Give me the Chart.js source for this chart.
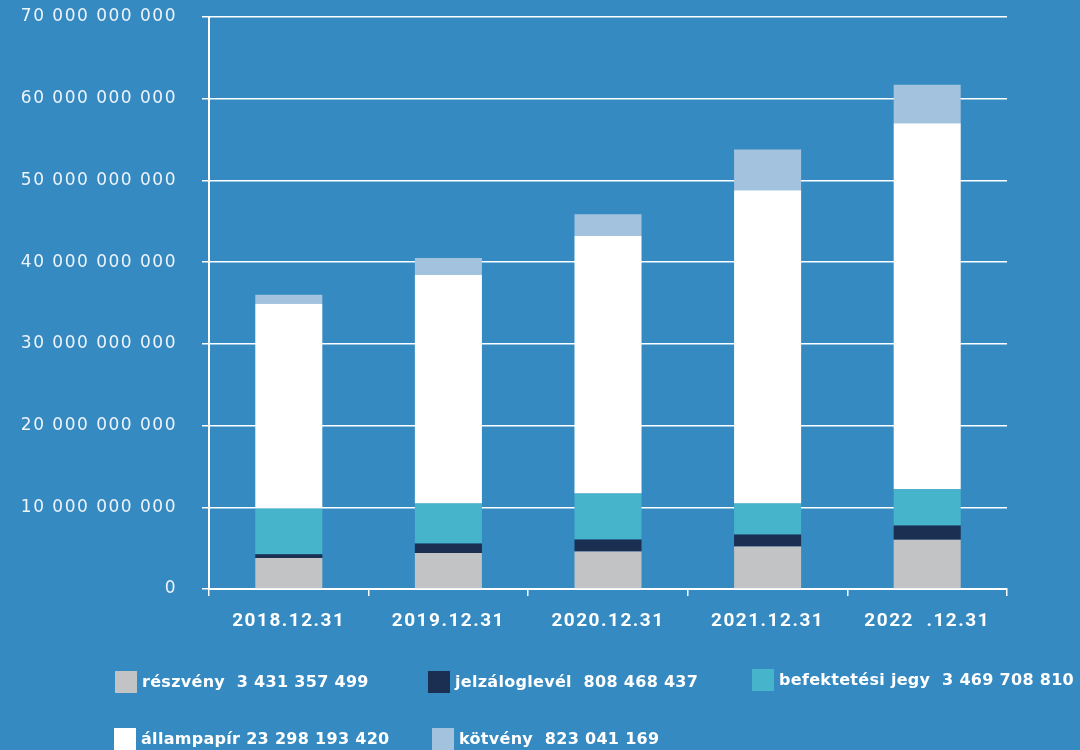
<!DOCTYPE html>
<html>
<head>
<meta charset="utf-8">
<script src="https://cdn.jsdelivr.net/npm/chart.js@4/dist/chart.umd.min.js"></script>
<style>
  body { margin: 0; background: #358ac1; }
  #wrap { position: relative; width: 1080px; height: 750px; overflow: hidden; background: #358ac1; }
  #legend .item { position: absolute; height: 22px; white-space: pre; color: #fff;
    font-family: "DejaVu Sans", sans-serif; font-weight: bold; font-size: 16px; line-height: 22px; letter-spacing: 0.3px; }
  #legend .sw { position: absolute; left: 0; top: 0; width: 22px; height: 22px; }
  #legend .tx { position: absolute; left: 27px; top: 0; }
</style>
</head>
<body>
<div id="wrap">
  <canvas id="myChart" width="1080" height="750"></canvas>
  <div id="legend"></div>
</div>
<script>
// data
var categories = ["2018.12.31", "2019.12.31", "2020.12.31", "2021.12.31", "2022  .12.31"];
var reszveny      = [3790000000, 4400000000, 4600000000, 5210000000, 6040000000];
var jelzaloglevel = [450000000, 1180000000, 1470000000, 1470000000, 1730000000];
var befektetesi   = [5610000000, 4880000000, 5610000000, 3780000000, 4430000000];
var allampapir    = [25050000000, 27960000000, 31520000000, 38340000000, 44800000000];
var kotveny       = [1100000000, 2080000000, 2670000000, 5000000000, 4700000000];

var legendTexts = ["részvény  3 431 357 499", "jelzáloglevél  808 468 437", "befektetési jegy  3 469 708 810",
                   "állampapír 23 298 193 420", "kötvény  823 041 169"];
var legendColors = ["#c2c3c5", "#1b2f52", "#46b5cc", "#ffffff", "#a3c2de"];
// where each legend entry sits
var legendPos = [[115, 671], [428, 671], [752, 669], [114, 728], [432, 728]];

function spaced(v) {
  return String(v).replace(/\B(?=(\d{3})+(?!\d))/g, " ");
}

var series = [reszveny, jelzaloglevel, befektetesi, allampapir, kotveny];
var datasets = [];
for (let i = 0; i < series.length; i++) {
  datasets.push({
    label: legendTexts[i],
    data: series[i],
    backgroundColor: legendColors[i],
    borderWidth: 0,
    categoryPercentage: 1,
    barPercentage: 0.42
  });
}

// wider lettering for the axis texts
var spacing = {
  id: "spacing",
  beforeDraw: function(chart) { chart.ctx.letterSpacing = "1.5px"; }
};

new Chart("myChart", {
  type: "bar",
  data: { labels: categories, datasets: datasets },
  plugins: [spacing],
  options: {
    responsive: false,
    animation: false,
    layout: { padding: { left: 0, right: 73, top: 17, bottom: 101 } },
    plugins: { legend: { display: false }, tooltip: { enabled: false } },
    scales: {
      x: {
        stacked: true,
        offset: true,
        afterFit: function(s) { s.height = 60; },
        border: { color: "#ffffff", width: 2 },
        grid: { offset: true, drawOnChartArea: false, color: "#ffffff", lineWidth: 1.5, tickLength: 7 },
        ticks: { color: "#ffffff", padding: 14, font: { family: "Roboto", weight: "bold", size: 19 } }
      },
      y: {
        stacked: true,
        min: 0,
        max: 70000000000,
        afterFit: function(s) { s.width = 209; s.paddingTop = 0; s.paddingBottom = 0; },
        border: { color: "#ffffff", width: 2 },
        grid: { color: "#ffffff", lineWidth: 1.5, tickLength: 7 },
        ticks: {
          stepSize: 10000000000,
          color: "#eef4fa",
          padding: 25,
          font: { family: "DejaVu Sans", size: 17 },
          callback: function(v) { return spaced(v); }
        }
      }
    }
  }
});

var lg = document.getElementById("legend");
for (let i = 0; i < legendTexts.length; i++) {
  var it = document.createElement("div");
  it.className = "item";
  it.style.left = legendPos[i][0] + "px";
  it.style.top = legendPos[i][1] + "px";
  it.innerHTML = '<div class="sw" style="background:' + legendColors[i] + '"></div><div class="tx">' + legendTexts[i] + '</div>';
  lg.appendChild(it);
}
</script>
</body>
</html>
